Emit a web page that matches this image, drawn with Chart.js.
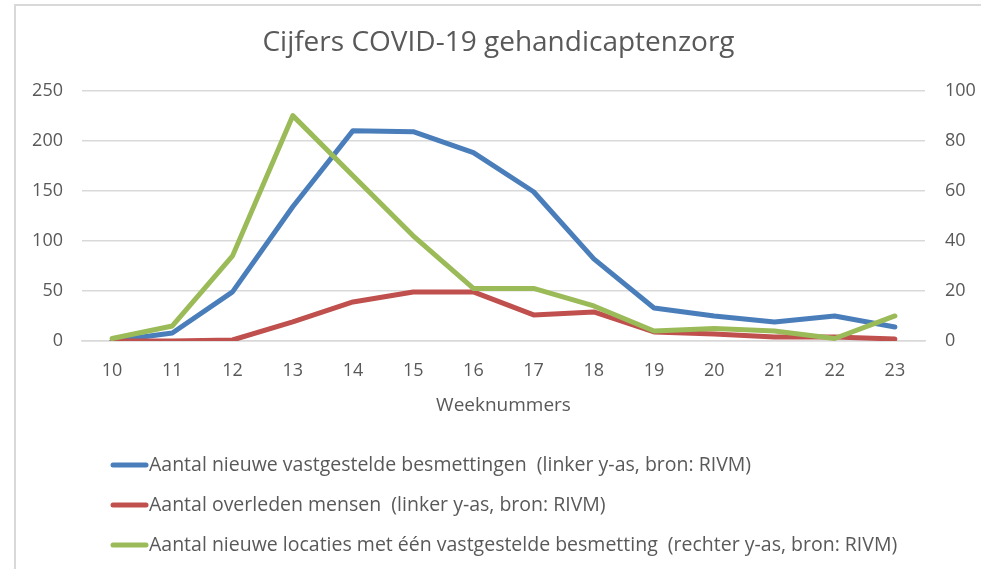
<!DOCTYPE html>
<html>
<head>
<meta charset="utf-8">
<script src="https://cdn.jsdelivr.net/npm/chart.js@4/dist/chart.umd.min.js"></script>
<style>
html, body { margin: 0; padding: 0; background: #fff; }
</style>
</head>
<body>
<canvas id="chart" width="981" height="569"></canvas>
<script>
const weeks = ["10", "11", "12", "13", "14", "15", "16", "17", "18", "19", "20", "21", "22", "23"];
const besmettingen = [0, 8, 49, 134, 210, 209, 188, 149, 82, 33, 25, 19, 25, 14];
const overleden = [0, 0, 1, 19, 39, 49, 49, 26, 29, 9, 7, 4, 4, 2];
const locaties = [1, 6, 34, 90, 66, 42, 21, 21, 14, 4, 5, 4, 1, 10];

const textColor = "#595959";
const gridColor = "#d9d9d9";
const fontFamily = "'Open Sans', sans-serif";

// grey frame around the chart, like the exported office chart
const framePlugin = {
    id: "frame",
    beforeDraw(chart) {
        const ctx = chart.ctx;
        ctx.save();
        ctx.strokeStyle = gridColor;
        ctx.lineWidth = 2;
        ctx.strokeRect(15, 5, 1100, 700);
        ctx.restore();
    }
};

// legend: one entry per row, under the axis title
const rowLegend = {
    id: "rowLegend",
    afterDraw(chart) {
        const ctx = chart.ctx;
        const x0 = chart.chartArea.left + 31;
        const y0 = chart.chartArea.bottom + 124;
        ctx.save();
        ctx.font = "19.5px " + fontFamily;
        ctx.textBaseline = "middle";
        chart.data.datasets.forEach(function (ds, i) {
            const y = y0 + i * 40;
            ctx.strokeStyle = ds.borderColor;
            ctx.lineWidth = 5;
            ctx.lineCap = "round";
            ctx.beginPath();
            ctx.moveTo(x0, y);
            ctx.lineTo(x0 + 33, y);
            ctx.stroke();
            ctx.fillStyle = textColor;
            ctx.fillText(ds.label, x0 + 36, y);
        });
        ctx.restore();
    }
};

const ctx = document.getElementById("chart").getContext("2d");
const chart = new Chart(ctx, {
    type: "line",
    data: {
        labels: weeks,
        datasets: [
            {
                label: "Aantal nieuwe vastgestelde besmettingen  (linker y-as, bron: RIVM)",
                data: besmettingen,
                borderColor: "#4a7ebb",
                yAxisID: "y",
                order: 2
            },
            {
                label: "Aantal overleden mensen  (linker y-as, bron: RIVM)",
                data: overleden,
                borderColor: "#c0504d",
                yAxisID: "y",
                order: 1
            },
            {
                label: "Aantal nieuwe locaties met één vastgestelde besmetting  (rechter y-as, bron: RIVM)",
                data: locaties,
                borderColor: "#9bbb59",
                yAxisID: "y1",
                order: 0
            }
        ]
    },
    options: {
        responsive: false,
        animation: false,
        layout: {
            padding: { left: 16, right: 0, top: 0, bottom: 148 }
        },
        elements: {
            line: { borderWidth: 5, tension: 0, borderCapStyle: "round", borderJoinStyle: "round" },
            point: { radius: 0 }
        },
        plugins: {
            legend: { display: false },
            tooltip: { enabled: false },
            title: {
                display: true,
                text: "Cijfers COVID-19 gehandicaptenzorg",
                color: textColor,
                font: { family: fontFamily, size: 28, weight: "normal" },
                padding: { top: 26, bottom: 31 }
            }
        },
        scales: {
            x: {
                offset: true,
                grid: { display: false },
                border: { color: gridColor, width: 1.5 },
                ticks: { color: textColor, font: { family: fontFamily, size: 18 }, padding: 11 },
                title: {
                    display: true,
                    text: "Weeknummers",
                    color: textColor,
                    font: { family: fontFamily, size: 19 },
                    padding: { top: 10 }
                },
                afterFit(scale) { scale.height = 80; }
            },
            y: {
                position: "left",
                min: 0,
                max: 250,
                ticks: { stepSize: 50, color: textColor, font: { family: fontFamily, size: 18 }, padding: 19 },
                grid: { color: gridColor, lineWidth: 1.5, drawTicks: false },
                border: { display: false },
                afterFit(scale) { scale.width = 66; }
            },
            y1: {
                position: "right",
                min: 0,
                max: 100,
                ticks: { stepSize: 20, color: textColor, font: { family: fontFamily, size: 18 }, padding: 20 },
                grid: { display: false, drawTicks: false },
                border: { display: false },
                afterFit(scale) { scale.width = 56; }
            }
        }
    },
    plugins: [framePlugin, rowLegend]
});
</script>
</body>
</html>
